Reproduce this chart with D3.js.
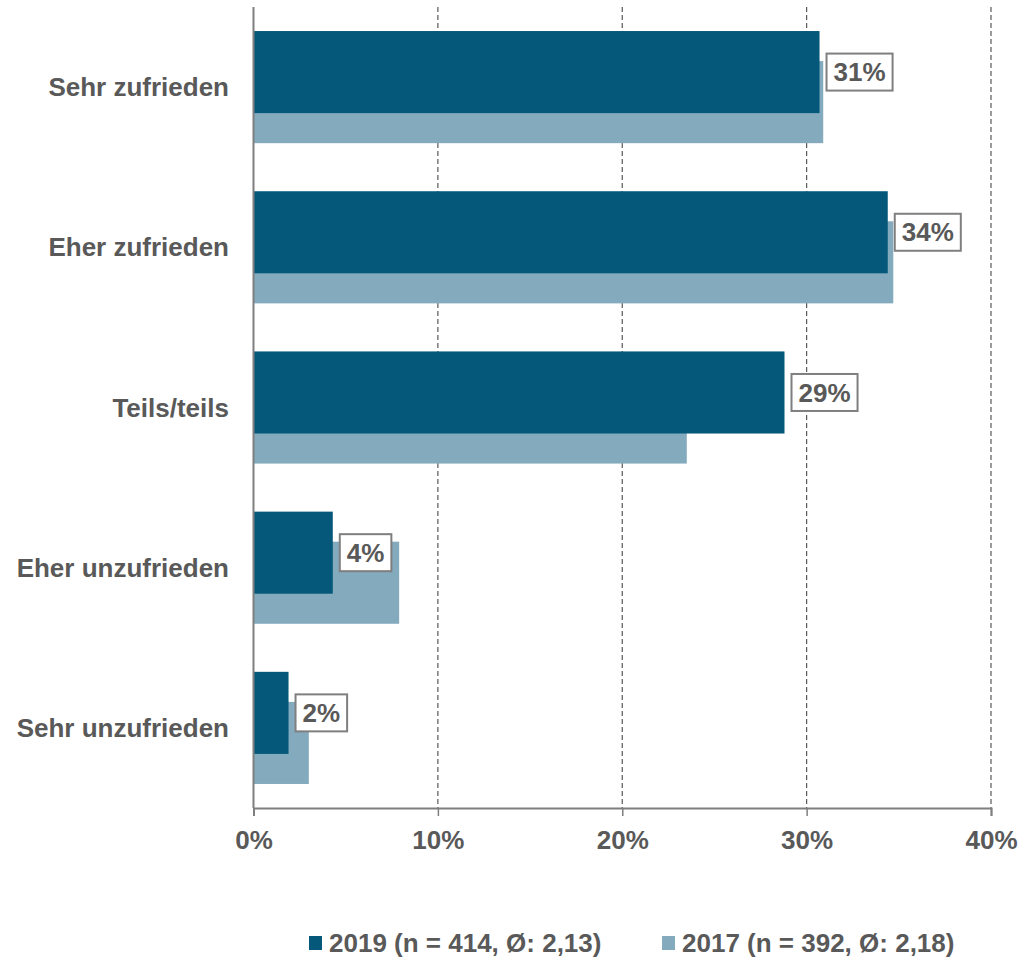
<!DOCTYPE html>
<html>
<head>
<meta charset="utf-8">
<script src="https://cdn.jsdelivr.net/npm/d3@7"></script>
<style>
  body { margin: 0; background: #fff; }
  text { font-family: "Liberation Sans", Arial, sans-serif; font-weight: bold; fill: #595959; }
</style>
</head>
<body>
<script>
// data
var categories = ["Sehr zufrieden", "Eher zufrieden", "Teils/teils", "Eher unzufrieden", "Sehr unzufrieden"];
var values2019 = [30.7, 34.4, 28.8, 4.3, 1.9];
var values2017 = [30.9, 34.7, 23.5, 7.9, 3.0];
var labels2019 = ["31%", "34%", "29%", "4%", "2%"];
var xTicks = [0, 10, 20, 30, 40];
var legendLabels = ["2019 (n = 414, Ø: 2,13)", "2017 (n = 392, Ø: 2,18)"];

var width = 1028, height = 960;
var colors = ["#05587a", "#83aabd"];

var svg = d3.select("body").append("svg")
  .attr("width", width)
  .attr("height", height);

// scales
var xScale = d3.scaleLinear()
  .domain([0, 40])
  .range([253.5, 991]);

var yScale = d3.scaleBand()
  .domain(categories)
  .range([7, 808])
  .paddingInner(0.3)
  .paddingOuter(0.15);

var bw = yScale.bandwidth();
var barH = bw * 0.732;
var offset = bw * 0.268;

// dashed gridlines
svg.append("g")
  .selectAll("line")
  .data(xTicks.slice(1))
  .enter()
  .append("line")
  .attr("x1", function(d) { return xScale(d); })
  .attr("x2", function(d) { return xScale(d); })
  .attr("y1", 7)
  .attr("y2", 808)
  .style("stroke", "#595959")
  .style("stroke-width", 1.2)
  .style("stroke-dasharray", "5,3");

// 2017 bars (behind, shifted down)
svg.append("g")
  .selectAll("rect")
  .data(categories)
  .enter()
  .append("rect")
  .attr("x", xScale(0))
  .attr("y", function(d) { return yScale(d) + offset; })
  .attr("width", function(d, i) { return xScale(values2017[i]) - xScale(0); })
  .attr("height", barH)
  .style("fill", colors[1]);

// 2019 bars
svg.append("g")
  .selectAll("rect")
  .data(categories)
  .enter()
  .append("rect")
  .attr("x", xScale(0))
  .attr("y", function(d) { return yScale(d); })
  .attr("width", function(d, i) { return xScale(values2019[i]) - xScale(0); })
  .attr("height", barH)
  .style("fill", colors[0]);

// x axis
var xAxis = svg.append("g")
  .attr("transform", "translate(0,808)")
  .call(d3.axisBottom(xScale).tickValues(xTicks).tickSize(8).tickPadding(15)
    .tickFormat(function(d) { return d + "%"; }));
xAxis.select(".domain").style("stroke", "#7f7f7f").style("stroke-width", 2);
xAxis.selectAll(".tick line").style("stroke", "#7f7f7f").style("stroke-width", 1.5);
xAxis.selectAll(".tick text")
  .style("font-size", "26px")
  .style("font-family", "'Liberation Sans', Arial, sans-serif")
  .style("font-weight", "bold")
  .attr("fill", "#595959");

// y axis line
svg.append("line")
  .attr("x1", xScale(0)).attr("x2", xScale(0))
  .attr("y1", 7).attr("y2", 808)
  .style("stroke", "#7f7f7f")
  .style("stroke-width", 2);

// category labels (centred on the band)
svg.append("g")
  .selectAll("text")
  .data(categories)
  .enter()
  .append("text")
  .attr("x", 229)
  .attr("y", function(d) { return yScale(d) + bw / 2; })
  .attr("dy", "0.35em")
  .attr("text-anchor", "end")
  .style("font-size", "26px")
  .text(function(d) { return d; });

// value labels in boxes
var lab = svg.append("g")
  .selectAll("g")
  .data(categories)
  .enter()
  .append("g")
  .attr("transform", function(d, i) {
    return "translate(" + (xScale(values2019[i]) + 7) + "," + (yScale(d) + barH / 2) + ")";
  });

lab.append("text")
  .attr("x", 7)
  .attr("dy", "0.35em")
  .style("font-size", "26px")
  .text(function(d, i) { return labels2019[i]; });

lab.each(function() {
  var g = d3.select(this);
  var bb = g.select("text").node().getBBox();
  g.insert("rect", "text")
    .attr("x", 0)
    .attr("y", -18.5)
    .attr("width", bb.width + 14)
    .attr("height", 37)
    .style("fill", "#fff")
    .style("stroke", "#7f7f7f")
    .style("stroke-width", 2);
});

// legend
var legendX = [309, 662];
var legend = svg.append("g")
  .selectAll("g")
  .data(legendLabels)
  .enter()
  .append("g")
  .attr("transform", function(d, i) { return "translate(" + legendX[i] + ",936)"; });

legend.append("rect")
  .attr("width", 13)
  .attr("height", 14)
  .style("fill", function(d, i) { return colors[i]; });

legend.append("text")
  .attr("x", 20)
  .attr("y", 16)
  .style("font-size", "26px")
  .text(function(d) { return d; });
</script>
</body>
</html>
